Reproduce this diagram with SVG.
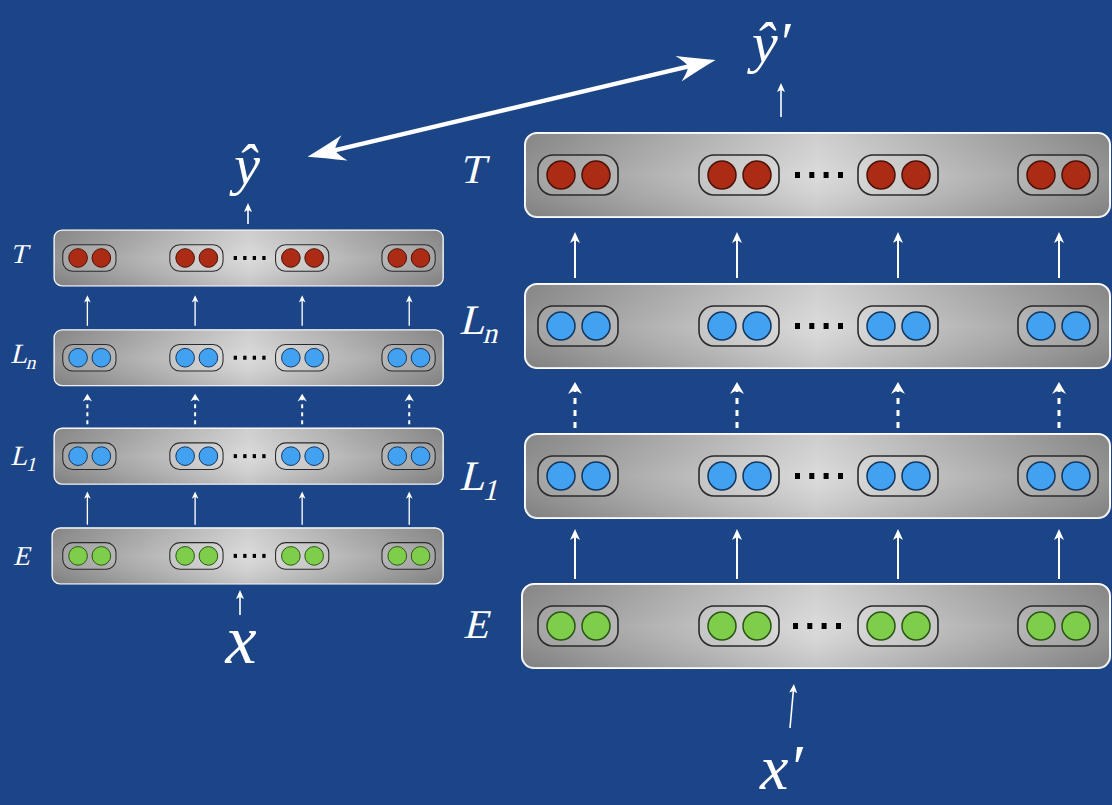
<svg xmlns="http://www.w3.org/2000/svg" xmlns:xlink="http://www.w3.org/1999/xlink" width="1112" height="805" viewBox="0 0 1112 805">
<style>
.bar{fill:url(#barGrad);stroke:#ffffff;stroke-width:2}
.shade{fill:url(#barShade);stroke:none}
.pod{fill:#ffffff;fill-opacity:0.15;stroke:#2a2a2a;stroke-width:1.6}
.cr{fill:#ab2b15;stroke:#4a1208;stroke-width:1.5}
.cb{fill:#43a1f1;stroke:#12365e;stroke-width:1.5}
.cg{fill:#7ecd4b;stroke:#2a5614;stroke-width:1.5}
.lbl{font-family:'Liberation Serif','Times New Roman',serif;font-style:normal;fill:#ffffff}
.var{font-family:'Liberation Serif','Times New Roman',serif;font-style:italic;fill:#ffffff}
.sol{stroke:#ffffff;stroke-width:2;fill:none;marker-end:url(#hS)}
.dsh{stroke:#ffffff;stroke-width:3;stroke-dasharray:6 6;fill:none;marker-end:url(#hD)}
.thin{stroke:#ffffff;stroke-width:1.6;fill:none;marker-end:url(#hT)}
</style>
<defs>
<linearGradient id="barGrad" x1="0" y1="0" x2="1" y2="0">
<stop offset="0" stop-color="#8d8d8d"/>
<stop offset="0.5" stop-color="#d9d9d9"/>
<stop offset="1" stop-color="#8d8d8d"/>
</linearGradient>
<linearGradient id="barShade" x1="0" y1="0" x2="0" y2="1">
<stop offset="0" stop-color="#000000" stop-opacity="0.05"/>
<stop offset="0.5" stop-color="#ffffff" stop-opacity="0.06"/>
<stop offset="1" stop-color="#000000" stop-opacity="0.1"/>
</linearGradient>
<g id="podR"><rect class="pod" x="0" y="0" width="80" height="40" rx="15"/><circle class="cr" cx="23" cy="20" r="14"/><circle class="cr" cx="58" cy="20" r="14"/></g>
<g id="podB"><rect class="pod" x="0" y="0" width="80" height="40" rx="15"/><circle class="cb" cx="23" cy="20" r="14"/><circle class="cb" cx="58" cy="20" r="14"/></g>
<g id="podG"><rect class="pod" x="0" y="0" width="80" height="40" rx="15"/><circle class="cg" cx="23" cy="20" r="14"/><circle class="cg" cx="58" cy="20" r="14"/></g>
<g id="dots" fill="#000000"><rect x="0" y="0" width="5" height="6"/><rect x="14.3" y="0" width="5" height="6"/><rect x="28.6" y="0" width="5" height="6"/><rect x="43" y="0" width="5" height="6"/></g>
<marker id="hS" markerUnits="userSpaceOnUse" orient="auto" refX="-5" refY="0" overflow="visible"><path d="M0,0 L-11,-5 L-8,0 L-11,5 Z" fill="#ffffff"/></marker>
<marker id="hD" markerUnits="userSpaceOnUse" orient="auto" refX="-7" refY="0" overflow="visible"><path d="M0,0 L-12,-7 L-8,0 L-12,7 Z" fill="#ffffff"/></marker>
<marker id="hT" markerUnits="userSpaceOnUse" orient="auto" refX="-4" refY="0" overflow="visible"><path d="M0,0 L-9,-4 L-7,0 L-9,4 Z" fill="#ffffff"/></marker>
<marker id="hB" markerUnits="userSpaceOnUse" orient="auto-start-reverse" refX="-20" refY="0" overflow="visible"><path d="M0,0 Q-16,-5 -38,-13 Q-30,-5 -28,0 Q-30,5 -38,13 Q-16,5 0,0 Z" fill="#ffffff"/></marker>
</defs>

<rect x="0" y="0" width="1112" height="805" fill="#1c4587"/>

<!-- Right network -->
<g id="right-network">
<g id="right-T">
<rect class="bar" x="525" y="133" width="585" height="84" rx="12"/>
<rect class="shade" x="525" y="133" width="585" height="84" rx="12"/>
<use xlink:href="#podR" href="#podR" x="538" y="155"/>
<use xlink:href="#podR" href="#podR" x="699" y="155"/>
<use xlink:href="#podR" href="#podR" x="858" y="155"/>
<use xlink:href="#podR" href="#podR" x="1018" y="155"/>
<use xlink:href="#dots" href="#dots" x="795" y="172"/>
<text class="lbl" transform="translate(459,183) skewX(-14)" font-size="41">T</text>
</g>
<g id="right-Ln">
<rect class="bar" x="525" y="284" width="585" height="84" rx="12"/>
<rect class="shade" x="525" y="284" width="585" height="84" rx="12"/>
<use xlink:href="#podB" href="#podB" x="538" y="306"/>
<use xlink:href="#podB" href="#podB" x="699" y="306"/>
<use xlink:href="#podB" href="#podB" x="858" y="306"/>
<use xlink:href="#podB" href="#podB" x="1018" y="306"/>
<use xlink:href="#dots" href="#dots" x="795" y="323"/>
<text class="lbl" transform="translate(459,334) skewX(-14)" font-size="42">L<tspan font-size="29" dy="9">n</tspan></text>
</g>
<g id="right-L1">
<rect class="bar" x="525" y="434" width="585" height="84" rx="12"/>
<rect class="shade" x="525" y="434" width="585" height="84" rx="12"/>
<use xlink:href="#podB" href="#podB" x="538" y="456"/>
<use xlink:href="#podB" href="#podB" x="699" y="456"/>
<use xlink:href="#podB" href="#podB" x="858" y="456"/>
<use xlink:href="#podB" href="#podB" x="1018" y="456"/>
<use xlink:href="#dots" href="#dots" x="795" y="473"/>
<text class="lbl" transform="translate(459,490) skewX(-14)" font-size="42">L<tspan font-size="30" dy="10">1</tspan></text>
</g>
<g id="right-E">
<rect class="bar" x="522" y="584" width="588" height="84" rx="12"/>
<rect class="shade" x="522" y="584" width="588" height="84" rx="12"/>
<use xlink:href="#podG" href="#podG" x="538" y="606"/>
<use xlink:href="#podG" href="#podG" x="699" y="606"/>
<use xlink:href="#podG" href="#podG" x="858" y="606"/>
<use xlink:href="#podG" href="#podG" x="1018" y="606"/>
<use xlink:href="#dots" href="#dots" x="793" y="623"/>
<text class="lbl" transform="translate(463,638) skewX(-14)" font-size="41">E</text>
</g>
<g id="right-connectors">
<line class="sol" x1="575" y1="278" x2="575" y2="237"/>
<line class="sol" x1="737" y1="278" x2="737" y2="237"/>
<line class="sol" x1="898" y1="278" x2="898" y2="237"/>
<line class="sol" x1="1059" y1="278" x2="1059" y2="237"/>
<line class="dsh" x1="575" y1="428" x2="575" y2="389"/>
<line class="dsh" x1="737" y1="428" x2="737" y2="389"/>
<line class="dsh" x1="898" y1="428" x2="898" y2="389"/>
<line class="dsh" x1="1059" y1="428" x2="1059" y2="389"/>
<line class="sol" x1="575" y1="579" x2="575" y2="534"/>
<line class="sol" x1="737" y1="579" x2="737" y2="534"/>
<line class="sol" x1="898" y1="579" x2="898" y2="534"/>
<line class="sol" x1="1059" y1="579" x2="1059" y2="534"/>
</g>
</g>

<!-- Left network (same structure, scaled) -->
<g id="left-network" transform="matrix(0.665 0 0 0.665 -295 141.6)">
<g id="left-T">
<rect class="bar" x="525" y="133" width="585" height="84" rx="12"/>
<rect class="shade" x="525" y="133" width="585" height="84" rx="12"/>
<use xlink:href="#podR" href="#podR" x="538" y="155"/>
<use xlink:href="#podR" href="#podR" x="699" y="155"/>
<use xlink:href="#podR" href="#podR" x="858" y="155"/>
<use xlink:href="#podR" href="#podR" x="1018" y="155"/>
<use xlink:href="#dots" href="#dots" x="795" y="172"/>
<text class="lbl" transform="translate(459,183) skewX(-14)" font-size="41">T</text>
</g>
<g id="left-Ln">
<rect class="bar" x="525" y="283" width="585" height="84" rx="12"/>
<rect class="shade" x="525" y="283" width="585" height="84" rx="12"/>
<use xlink:href="#podB" href="#podB" x="538" y="305"/>
<use xlink:href="#podB" href="#podB" x="699" y="305"/>
<use xlink:href="#podB" href="#podB" x="858" y="305"/>
<use xlink:href="#podB" href="#podB" x="1018" y="305"/>
<use xlink:href="#dots" href="#dots" x="795" y="322"/>
<text class="lbl" transform="translate(459,333) skewX(-14)" font-size="42">L<tspan font-size="29" dy="9">n</tspan></text>
</g>
<g id="left-L1">
<rect class="bar" x="525" y="431" width="585" height="84" rx="12"/>
<rect class="shade" x="525" y="431" width="585" height="84" rx="12"/>
<use xlink:href="#podB" href="#podB" x="538" y="453"/>
<use xlink:href="#podB" href="#podB" x="699" y="453"/>
<use xlink:href="#podB" href="#podB" x="858" y="453"/>
<use xlink:href="#podB" href="#podB" x="1018" y="453"/>
<use xlink:href="#dots" href="#dots" x="795" y="470"/>
<text class="lbl" transform="translate(459,486) skewX(-14)" font-size="42">L<tspan font-size="30" dy="10">1</tspan></text>
</g>
<g id="left-E">
<rect class="bar" x="522" y="581" width="588" height="84" rx="12"/>
<rect class="shade" x="522" y="581" width="588" height="84" rx="12"/>
<use xlink:href="#podG" href="#podG" x="538" y="603"/>
<use xlink:href="#podG" href="#podG" x="699" y="603"/>
<use xlink:href="#podG" href="#podG" x="858" y="603"/>
<use xlink:href="#podG" href="#podG" x="1018" y="603"/>
<use xlink:href="#dots" href="#dots" x="795" y="620"/>
<text class="lbl" transform="translate(463,636) skewX(-14)" font-size="41">E</text>
</g>
<g id="left-connectors">
<line class="sol" x1="575" y1="277" x2="575" y2="236"/>
<line class="sol" x1="737" y1="277" x2="737" y2="236"/>
<line class="sol" x1="898" y1="277" x2="898" y2="236"/>
<line class="sol" x1="1059" y1="277" x2="1059" y2="236"/>
<line class="dsh" x1="575" y1="425" x2="575" y2="386"/>
<line class="dsh" x1="737" y1="425" x2="737" y2="386"/>
<line class="dsh" x1="898" y1="425" x2="898" y2="386"/>
<line class="dsh" x1="1059" y1="425" x2="1059" y2="386"/>
<line class="sol" x1="575" y1="576" x2="575" y2="531"/>
<line class="sol" x1="737" y1="576" x2="737" y2="531"/>
<line class="sol" x1="898" y1="576" x2="898" y2="531"/>
<line class="sol" x1="1059" y1="576" x2="1059" y2="531"/>
</g>
</g>

<!-- Inputs / outputs -->
<g id="y-hat"><text class="var" x="247" y="184" font-size="58" text-anchor="middle">ŷ</text></g>
<g id="x-in"><text class="var" x="241" y="663" font-size="70" text-anchor="middle">x</text></g>
<g id="y-hat-prime"><text class="var" x="752" y="62" font-size="58">ŷ′</text></g>
<g id="x-prime-in"><text class="var" x="760" y="789" font-size="64">x′</text></g>

<g id="io-connectors">
<line class="thin" x1="248" y1="224" x2="248" y2="207"/>
<line class="thin" x1="240" y1="615" x2="240" y2="594"/>
<line class="thin" x1="781" y1="117" x2="781" y2="87"/>
<line class="thin" x1="790" y1="728" x2="793.6" y2="688"/>
<line x1="327" y1="152.1" x2="696.1" y2="64.6" stroke="#ffffff" stroke-width="4.5" marker-start="url(#hB)" marker-end="url(#hB)"/>
</g>
</svg>
